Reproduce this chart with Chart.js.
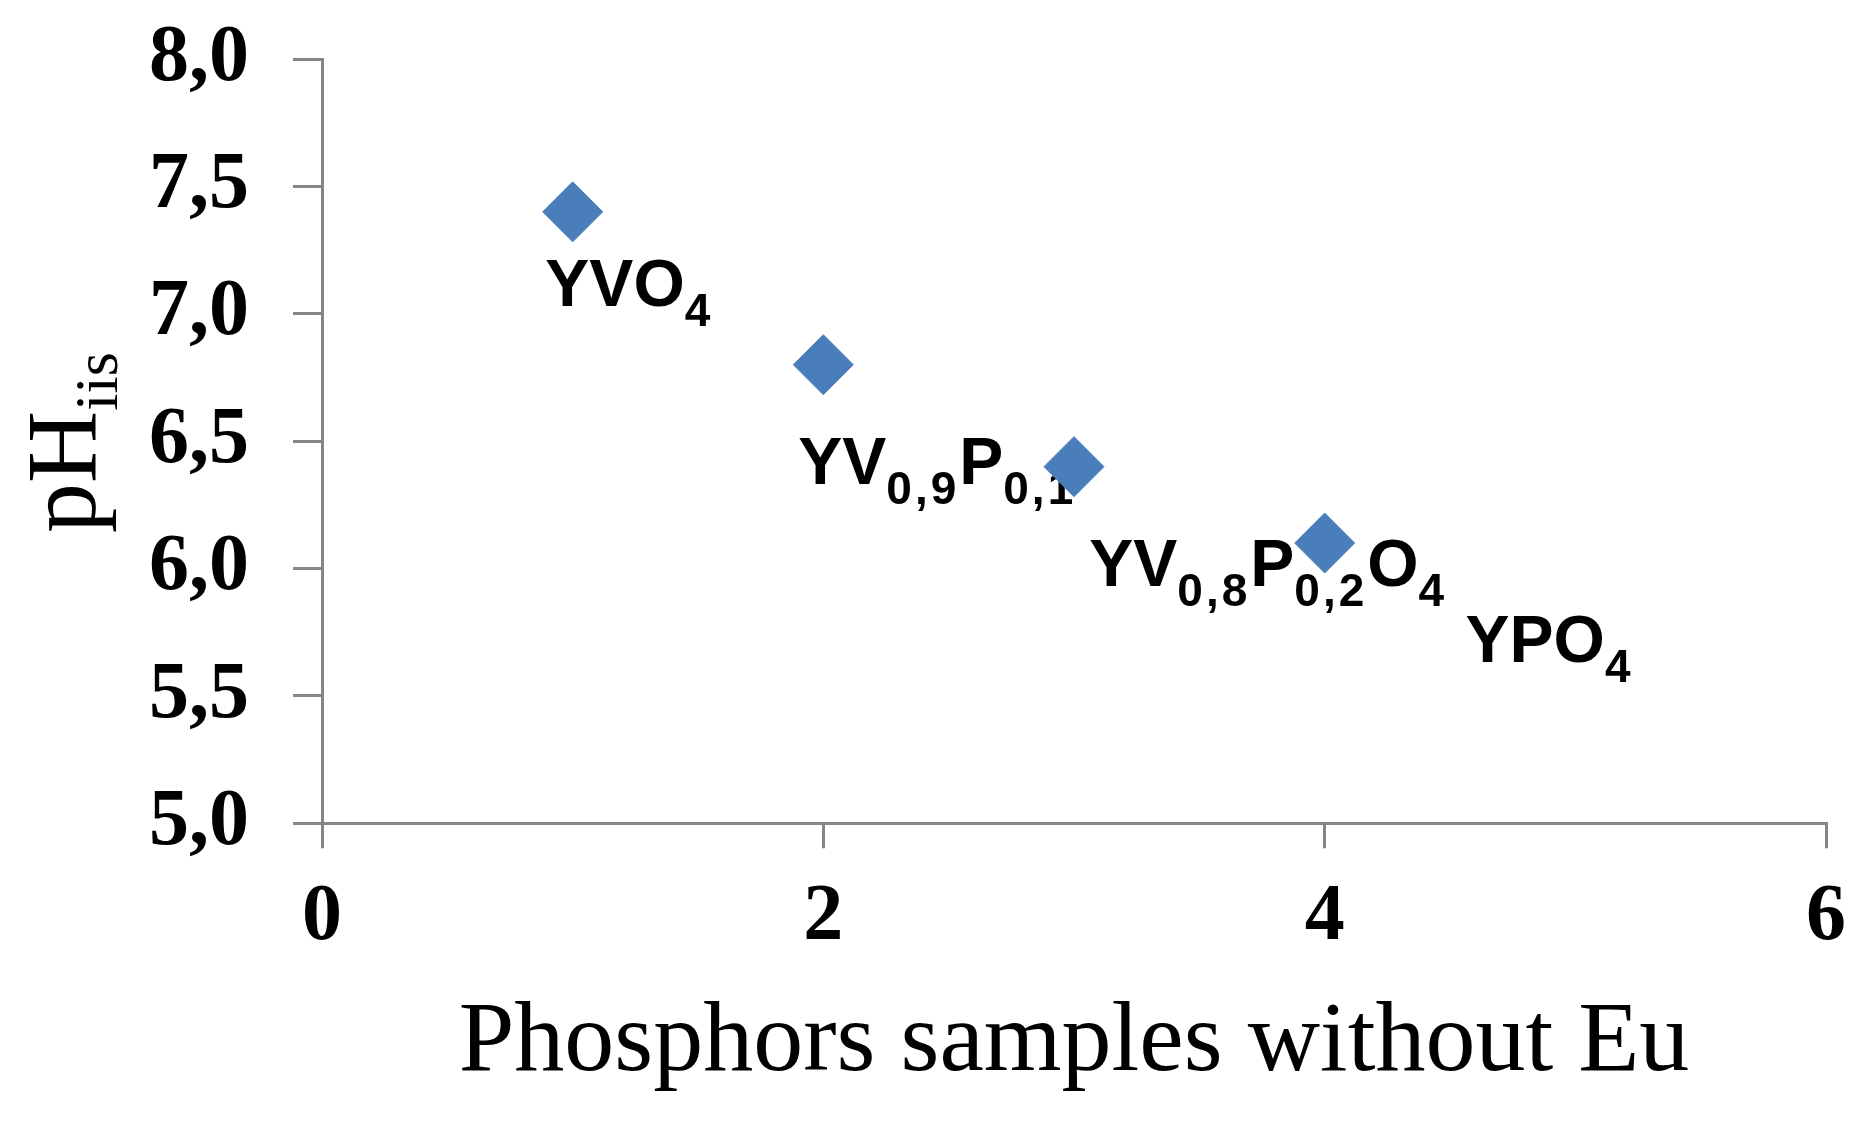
<!DOCTYPE html>
<html>
<head>
<meta charset="utf-8">
<script src="https://cdn.jsdelivr.net/npm/chart.js@4.4.1/dist/chart.umd.min.js"></script>
<style>
	html, body { margin: 0; padding: 0; background: #ffffff; }
	#wrap { width: 1876px; height: 1128px; }
</style>
</head>
<body>
<div id="wrap"><canvas id="ph-chart" width="1876" height="1128"></canvas></div>
<script>
// sample number on x, measured pH on y
const sampleIndex = [1, 2, 3, 4];
const phValues = [7.4, 6.8, 6.4, 6.1];
// composition of each sample, split in [text, subscript?] pieces
const sampleNames = [
	[["YVO", false], ["4", true]],
	[["YV", false], ["0,9", true], ["P", false], ["0,1", true]],
	[["YV", false], ["0,8", true], ["P", false], ["0,2", true], ["O", false], ["4", true]],
	[["YPO", false], ["4", true]],
];
const xAxisTitle = "Phosphors samples without Eu";
const yAxisTitle = ["pH", "iis"];

const axisGrey = "#868686";
const tickFont = { family: "'Liberation Serif', 'Times New Roman', serif", size: 80, weight: "bold" };

// formula labels drawn next to the markers (anchor = baseline-left, in axis units)
const formulaLabels = {
	id: "formulaLabels",
	beforeDatasetsDraw(chart, args, opts) {
		const ctx = chart.ctx;
		const xs = chart.scales.x;
		const ys = chart.scales.y;
		ctx.save();
		ctx.fillStyle = "#000000";
		ctx.textAlign = "left";
		ctx.textBaseline = "alphabetic";
		sampleNames.forEach((parts, i) => {
			let px = xs.getPixelForValue(opts.anchors[i][0]);
			const py = ys.getPixelForValue(opts.anchors[i][1]);
			parts.forEach(([txt, sub]) => {
				ctx.font = sub ? opts.subFont : opts.mainFont;
				ctx.letterSpacing = sub ? opts.subSpacing : "0px";
				ctx.fillText(txt, px, py + (sub ? opts.subShift : 0));
				px += ctx.measureText(txt).width;
			});
		});
		ctx.restore();
	},
};

// rotated y title with subscript, chart.js title can't do that
const yTitle = {
	id: "yTitle",
	afterDraw(chart, args, opts) {
		const ctx = chart.ctx;
		ctx.save();
		ctx.translate(opts.x, opts.y);
		ctx.rotate(-Math.PI / 2);
		ctx.fillStyle = "#000000";
		ctx.textAlign = "left";
		ctx.textBaseline = "alphabetic";
		ctx.font = opts.mainFont;
		ctx.fillText(yAxisTitle[0], 0, 0);
		const w = ctx.measureText(yAxisTitle[0]).width;
		ctx.font = opts.subFont;
		ctx.fillText(yAxisTitle[1], w, opts.subShift);
		ctx.restore();
	},
};

new Chart(document.getElementById("ph-chart"), {
	type: "scatter",
	data: {
		datasets: [
			{
				data: sampleIndex.map((x, i) => ({ x: x, y: phValues[i] })),
				pointStyle: "rectRot",
				pointRadius: 30,
				pointHoverRadius: 30,
				backgroundColor: "#4A7EBB",
				borderColor: "#4A7EBB",
				borderWidth: 1,
				showLine: false,
			},
		],
	},
	options: {
		responsive: false,
		animation: false,
		devicePixelRatio: 1,
		layout: {
			padding: { left: 0, right: 50, top: 59, bottom: 0 },
		},
		scales: {
			x: {
				type: "linear",
				min: 0,
				max: 6,
				ticks: {
					stepSize: 2,
					color: "#000000",
					font: tickFont,
					padding: 22,
				},
				grid: {
					drawOnChartArea: false,
					tickLength: 25,
					color: axisGrey,
					lineWidth: 3,
				},
				border: { color: axisGrey, width: 3 },
				title: {
					display: true,
					text: xAxisTitle,
					color: "#000000",
					font: { family: "'Liberation Serif', 'Times New Roman', serif", size: 100, lineHeight: 1.2 },
					padding: { top: 0, bottom: 24 },
				},
				afterFit: (scale) => {
					scale.height = 304.7;
				},
			},
			y: {
				type: "linear",
				min: 5,
				max: 8,
				ticks: {
					stepSize: 0.5,
					color: "#000000",
					font: tickFont,
					padding: 44,
					callback: (v) => v.toFixed(1).replace(".", ","),
				},
				grid: {
					drawOnChartArea: false,
					tickLength: 29,
					color: axisGrey,
					lineWidth: 3,
				},
				border: { color: axisGrey, width: 3 },
				afterFit: (scale) => {
					scale.width = 322;
					// top label overhang is covered by layout padding
					scale.paddingTop = 0;
				},
			},
		},
		plugins: {
			legend: { display: false },
			tooltip: { enabled: false },
			formulaLabels: {
				anchors: [[0.891, 7.029], [1.9, 6.333], [3.061, 5.932], [4.562, 5.634]],
				mainFont: "bold 66px 'Liberation Sans', Arial, sans-serif",
				subFont: "bold 46px 'Liberation Sans', Arial, sans-serif",
				subShift: 20,
				subSpacing: "3px",
			},
			yTitle: {
				x: 95,
				y: 533,
				mainFont: "100px 'Liberation Serif', 'Times New Roman', serif",
				subFont: "62px 'Liberation Serif', 'Times New Roman', serif",
				subShift: 22,
			},
		},
	},
	plugins: [formulaLabels, yTitle],
});
</script>
</body>
</html>
